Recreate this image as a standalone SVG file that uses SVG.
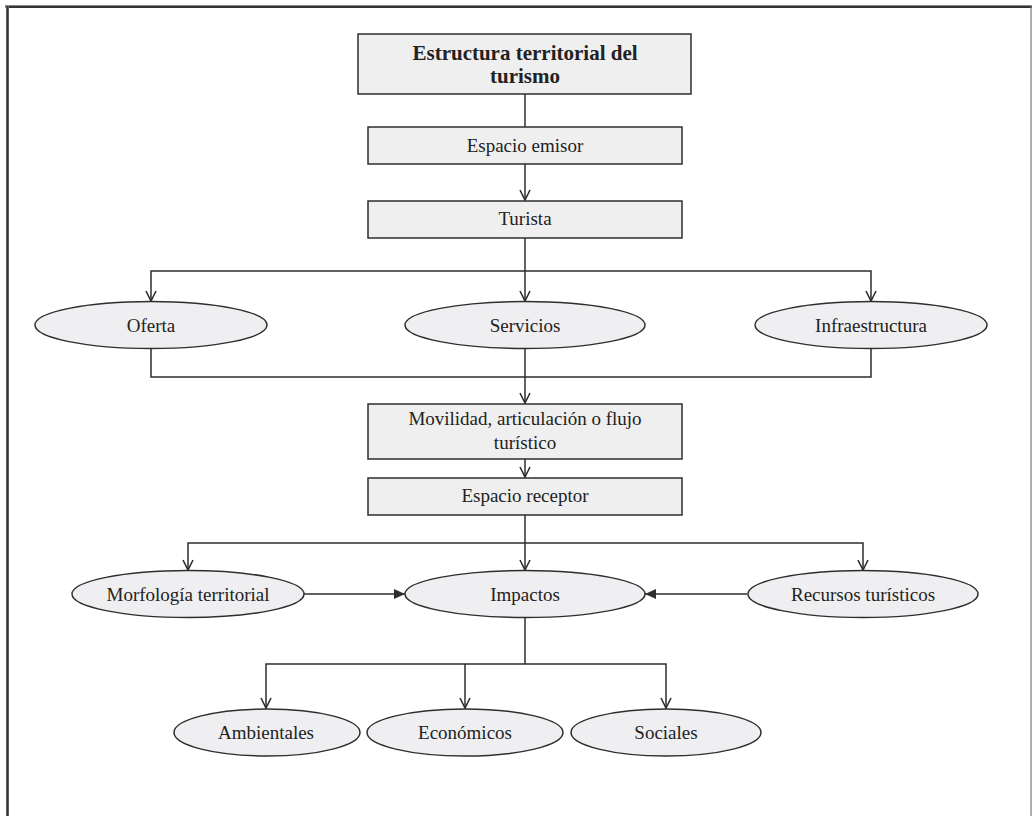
<svg xmlns="http://www.w3.org/2000/svg" width="1032" height="816" viewBox="0 0 1032 816">
  <defs>
    <style>
      .box { fill: #efeff0; stroke: #2e2e2e; stroke-width: 1.5; }
      .oval { fill: #efeff1; stroke: #2e2e2e; stroke-width: 1.5; }
      .lbl { font-family: "Liberation Serif", "Times New Roman", serif; font-size: 19px; fill: #222; text-anchor: middle; }
      .ttl { font-family: "Liberation Serif", "Times New Roman", serif; font-size: 21px; font-weight: bold; fill: #222; text-anchor: middle; }
      .wire { fill: none; stroke: #2e2e2e; stroke-width: 1.5; }
      .arr { marker-end: url(#open); }
      .arf { marker-end: url(#solid); }
      .fork { marker-start: url(#open); marker-end: url(#open); }
    </style>
    <!-- open chevron head, drawn pointing along +x -->
    <marker id="open" viewBox="0 0 12 12" refX="11" refY="6" markerWidth="12" markerHeight="12" markerUnits="userSpaceOnUse" orient="auto-start-reverse">
      <path d="M1,1 L11,6 L1,11" fill="none" stroke="#2e2e2e" stroke-width="1.6"/>
    </marker>
    <!-- filled triangle head -->
    <marker id="solid" viewBox="0 0 12 10" refX="11" refY="5" markerWidth="12" markerHeight="10" markerUnits="userSpaceOnUse" orient="auto">
      <path d="M0,0 L11,5 L0,10 Z" fill="#2e2e2e"/>
    </marker>
  </defs>

  <!-- page frame -->
  <g id="frame">
    <rect x="0" y="0" width="1032" height="816" fill="#ffffff"/>
    <line x1="5" y1="6.5" x2="1032" y2="6.5" stroke="#8a8a8a" stroke-width="3"/>
    <line x1="6" y1="7" x2="1032" y2="7" stroke="#333" stroke-width="2"/>
    <line x1="7.5" y1="5" x2="7.5" y2="816" stroke="#8a8a8a" stroke-width="3"/>
    <line x1="7.5" y1="6" x2="7.5" y2="816" stroke="#333" stroke-width="2"/>
    <line x1="1031" y1="6" x2="1031" y2="816" stroke="#777" stroke-width="1.2"/>
  </g>

  <!-- connectors -->
  <g id="connectors">
    <line class="wire" x1="525" y1="94" x2="525" y2="127"/>
    <line class="wire arr" x1="525" y1="164" x2="525" y2="200"/>
    <line class="wire" x1="525" y1="238" x2="525" y2="271"/>
    <polyline class="wire fork" points="151,301 151,271 871,271 871,301"/>
    <line class="wire arr" x1="525" y1="271" x2="525" y2="301"/>
    <polyline class="wire" points="151,349 151,377 871,377 871,349"/>
    <line class="wire" x1="525" y1="349" x2="525" y2="377"/>
    <line class="wire arr" x1="525" y1="377" x2="525" y2="403"/>
    <line class="wire arr" x1="525" y1="459" x2="525" y2="477"/>
    <line class="wire" x1="525" y1="515" x2="525" y2="543"/>
    <polyline class="wire fork" points="188,570 188,543 863,543 863,570"/>
    <line class="wire arr" x1="525" y1="543" x2="525" y2="570"/>
    <line class="wire arf" x1="303" y1="594" x2="405" y2="594"/>
    <line class="wire arf" x1="747" y1="594" x2="645" y2="594"/>
    <line class="wire" x1="525" y1="617" x2="525" y2="664"/>
    <polyline class="wire fork" points="266,708 266,664 666,664 666,708"/>
    <line class="wire arr" x1="465" y1="664" x2="465" y2="708"/>
  </g>

  <g id="n-titulo">
    <rect class="box" x="358" y="34" width="333" height="60"/>
    <text class="ttl" x="525" y="60">Estructura territorial del</text>
    <text class="ttl" x="525" y="83">turismo</text>
  </g>

  <g id="n-emisor">
    <rect class="box" x="368" y="127" width="314" height="37"/>
    <text class="lbl" x="525" y="152">Espacio emisor</text>
  </g>

  <g id="n-turista">
    <rect class="box" x="368" y="201" width="314" height="37"/>
    <text class="lbl" x="525" y="225">Turista</text>
  </g>

  <g id="n-oferta">
    <ellipse class="oval" cx="151" cy="325" rx="116" ry="23.5"/>
    <text class="lbl" x="151" y="332">Oferta</text>
  </g>

  <g id="n-servicios">
    <ellipse class="oval" cx="525" cy="325" rx="120" ry="23.5"/>
    <text class="lbl" x="525" y="332">Servicios</text>
  </g>

  <g id="n-infraestructura">
    <ellipse class="oval" cx="871" cy="325" rx="116" ry="23.5"/>
    <text class="lbl" x="871" y="332">Infraestructura</text>
  </g>

  <g id="n-movilidad">
    <rect class="box" x="368" y="404" width="314" height="55"/>
    <text class="lbl" x="525" y="425">Movilidad, articulación o flujo</text>
    <text class="lbl" x="525" y="449">turístico</text>
  </g>

  <g id="n-receptor">
    <rect class="box" x="368" y="478" width="314" height="37"/>
    <text class="lbl" x="525" y="502">Espacio receptor</text>
  </g>

  <g id="n-morfologia">
    <ellipse class="oval" cx="188" cy="594" rx="116" ry="23.5"/>
    <text class="lbl" x="188" y="601">Morfología territorial</text>
  </g>

  <g id="n-impactos">
    <ellipse class="oval" cx="525" cy="594" rx="120" ry="23.5"/>
    <text class="lbl" x="525" y="601">Impactos</text>
  </g>

  <g id="n-recursos">
    <ellipse class="oval" cx="863" cy="594" rx="115" ry="23.5"/>
    <text class="lbl" x="863" y="601">Recursos turísticos</text>
  </g>

  <g id="n-ambientales">
    <ellipse class="oval" cx="267" cy="732.5" rx="93" ry="23.5"/>
    <text class="lbl" x="266" y="739">Ambientales</text>
  </g>

  <g id="n-economicos">
    <ellipse class="oval" cx="465" cy="732.5" rx="98" ry="23.5"/>
    <text class="lbl" x="465" y="739">Económicos</text>
  </g>

  <g id="n-sociales">
    <ellipse class="oval" cx="666" cy="732.5" rx="95" ry="23.5"/>
    <text class="lbl" x="666" y="739">Sociales</text>
  </g>
</svg>
